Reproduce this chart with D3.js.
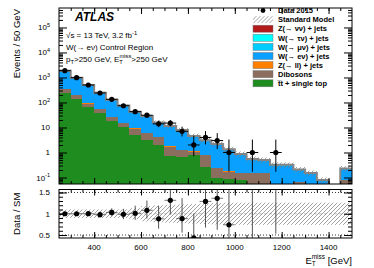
<!DOCTYPE html>
<html>
<head>
<meta charset="utf-8">
<script src="https://cdn.jsdelivr.net/npm/d3@7/dist/d3.min.js"></script>
<style>
  body { margin: 0; background: #fff; }
  svg text { font-family: "Liberation Sans", Arial, Helvetica, sans-serif; fill: #000; }
</style>
</head>
<body>
<script>
// 50 GeV bins from 250 to 1500 GeV
const binCenters = [275,325,375,425,475,525,575,625,675,725,775,825,875,925,975,1025,1075,1125,1175,1225,1275,1325,1375,1425,1475];

// data 2015 and its (poisson) errors
const dataCounts  = [1870,980,500,240,134,74,43,31,14,15,7,2,4,3,1,0,1,0,1,0,0,0,0,0,0];
const dataErrLow  = [43,31,22,15.5,11.6,8.6,6.6,5.6,3.7,3.8,2.6,1.29,1.91,1.63,0.83,0,0.83,0,0.83,0,0,0,0,0,0];
const dataErrHigh = [44,32,23,16.5,12.6,9.6,7.6,6.6,4.8,4.9,3.8,2.64,3.16,2.92,2.3,0,2.3,0,2.3,0,0,0,0,0,0];

// backgrounds (stack order bottom -> top)
const ttbar   = [245,134,68,37,19,10.5,5,3.2,2.0,0.7,0.68,0.8,0.27,0.1,0.09,0.08,0,0,0,0,0,0,0,0,0];
const diboson = [89,58,23,16,7.5,4.7,4.1,2.6,2.2,1.0,0.58,0.27,0.53,0.13,0.08,0.07,0.15,0.15,0,0,0.068,0,0,0,0.08];
const zll     = [6,8,2,1,0.5,0.3,0.2,0.1,0.1,0.05,0.05,0.03,0.02,0.02,0.01,0,0,0,0,0,0,0,0,0,0];
const wenu    = [1409,716,374,175,94.6,54.6,30.45,20.9,10.62,8.93,6.1,3.18,2.08,1.81,1.08,0.65,0.36,0.31,0.295,0.295,0.125,0.135,0.07,0,0.13];
const wmunu   = [37,20,10,5,2.6,1.5,0.85,0.6,0.3,0.22,0.15,0.1,0.06,0.04,0.03,0.02,0.01,0.01,0.01,0.01,0.005,0.005,0.003,0,0.005];
const wtaunu  = [75,39,20,10,5.2,3,1.7,1.15,0.6,0.45,0.3,0.2,0.12,0.09,0.05,0.04,0.03,0.03,0.015,0.015,0.012,0.01,0.006,0,0.015];
const znunu   = [9,5,2.5,1.2,0.6,0.4,0.2,0.15,0.08,0.05,0.04,0.02,0.02,0.01,0.01,0.01,0,0,0,0,0,0,0,0,0];

// relative uncertainty of the SM prediction
const smUnc = [0.1,0.1,0.1,0.1,0.1,0.1,0.13,0.18,0.2,0.21,0.22,0.23,0.24,0.25,0.26,0.26,0.26,0.26,0.26,0.26,0.26,0.26,0.26,0.26,0.26];

const keys = ["ttbar","diboson","zll","wenu","wmunu","wtaunu","znunu"];
const colors = {
  znunu: "#b31b1b", wtaunu: "#00ffff", wmunu: "#00ccff", wenu: "#0aa0ff",
  zll: "#ff8000", diboson: "#8c6e5f", ttbar: "#1e8c1e"
};
const legendEntries = [
  {label: "Data 2015", type: "data"},
  {label: "Standard Model", type: "sm"},
  {label: "Z(\u2192 \u03bd\u03bd) + jets", type: "znunu"},
  {label: "W(\u2192 \u03c4\u03bd) + jets", type: "wtaunu"},
  {label: "W(\u2192 \u03bc\u03bd) + jets", type: "wmunu"},
  {label: "W(\u2192 e\u03bd) + jets", type: "wenu"},
  {label: "Z(\u2192 ll) + jets", type: "zll"},
  {label: "Dibosons", type: "diboson"},
  {label: "t\u0305t + single top", type: "ttbar"}
];
const xLabels = [400,600,800,1000,1200,1400];
const logLabels = [-1,0,1,2,3,4,5];
const ratioLabels = [0.5,1,1.5];

const width = 374, height = 268;
const left = 59, right = 352;
const mainTop = 8, mainBottom = 184;
const ratioTop = 189.5, ratioBottom = 238;

const svg = d3.select("body").append("svg")
  .attr("width", width).attr("height", height);

const xScale = d3.scaleLinear().domain([250, 1500]).range([left, right]);
const yScale = d3.scaleLog().domain([0.055, 6e5]).range([mainBottom, mainTop]);
const rScale = d3.scaleLinear().domain([0.43, 1.57]).range([ratioBottom, ratioTop]);
const yFloor = yScale.domain()[0];

const defs = svg.append("defs");
defs.append("pattern").attr("id", "hatch")
  .attr("patternUnits", "userSpaceOnUse").attr("width", 4).attr("height", 4)
  .append("path").attr("d", "M-1,1 l2,-2 M0,4 l4,-4 M3,5 l2,-2")
  .attr("stroke", "#7a7a7a").attr("stroke-width", 0.7);
defs.append("clipPath").attr("id", "clipMain").append("rect")
  .attr("x", left).attr("y", mainTop).attr("width", right - left).attr("height", mainBottom - mainTop);
defs.append("clipPath").attr("id", "clipRatio").append("rect")
  .attr("x", left).attr("y", ratioTop).attr("width", right - left).attr("height", ratioBottom - ratioTop);

// stacked backgrounds
const rows = binCenters.map((c, i) => ({
  c: c, ttbar: ttbar[i], diboson: diboson[i], zll: zll[i], wenu: wenu[i],
  wmunu: wmunu[i], wtaunu: wtaunu[i], znunu: znunu[i]
}));
const stacked = d3.stack().keys(keys)(rows);
const total = stacked[stacked.length - 1].map(d => d[1]);

const main = svg.append("g").attr("clip-path", "url(#clipMain)");
stacked.forEach(layer => {
  main.append("g").selectAll("rect")
    .data(layer.filter(d => d[1] > d[0] && d[1] > yFloor))
    .enter().append("rect")
    .attr("x", d => xScale(d.data.c - 25))
    .attr("width", xScale(300) - xScale(250))
    .attr("y", d => yScale(d[1]))
    .attr("height", d => (d[0] > yFloor ? yScale(d[0]) : mainBottom + 2) - yScale(d[1]))
    .attr("fill", colors[layer.key])
    .attr("shape-rendering", "crispEdges");
});

// SM uncertainty band + outline
main.append("g").selectAll("rect")
  .data(binCenters.map((c, i) => ({c: c, t: total[i], u: smUnc[i]})).filter(d => d.t > 0))
  .enter().append("rect")
  .attr("x", d => xScale(d.c - 25))
  .attr("width", xScale(300) - xScale(250))
  .attr("y", d => yScale(d.t * (1 + d.u)))
  .attr("height", d => yScale(Math.max(d.t * (1 - d.u), yFloor * 0.5)) - yScale(d.t * (1 + d.u)))
  .attr("fill", "url(#hatch)");

const stepPts = binCenters.map((c, i) => [c - 25, Math.max(total[i], yFloor * 0.3)]);
stepPts.push([1500, Math.max(total[total.length - 1], yFloor * 0.3)]);
main.append("path")
  .attr("d", d3.line().x(d => xScale(d[0])).y(d => yScale(d[1])).curve(d3.curveStepAfter)(stepPts))
  .attr("fill", "none").attr("stroke", "#858585").attr("stroke-width", 2);

// data points
const pts = binCenters.map((c, i) => ({
  c: c, n: dataCounts[i], lo: dataErrLow[i], hi: dataErrHigh[i], t: total[i]
})).filter(d => d.n > 0);

const dataG = main.append("g");
dataG.selectAll("line.v").data(pts).enter().append("line")
  .attr("x1", d => xScale(d.c)).attr("x2", d => xScale(d.c))
  .attr("y1", d => yScale(d.n + d.hi))
  .attr("y2", d => yScale(Math.max(d.n - d.lo, yFloor * 0.5)))
  .attr("stroke", "#000").attr("stroke-width", 1);
dataG.selectAll("line.h").data(pts).enter().append("line")
  .attr("x1", d => xScale(d.c - 25)).attr("x2", d => xScale(d.c + 25))
  .attr("y1", d => yScale(d.n)).attr("y2", d => yScale(d.n))
  .attr("stroke", "#000").attr("stroke-width", 1);
dataG.selectAll("circle").data(pts).enter().append("circle")
  .attr("cx", d => xScale(d.c)).attr("cy", d => yScale(d.n))
  .attr("r", 2.6).attr("fill", "#000");

// ratio panel
const ratio = svg.append("g").attr("clip-path", "url(#clipRatio)");
ratio.append("g").selectAll("rect")
  .data(binCenters.map((c, i) => ({c: c, u: smUnc[i]})))
  .enter().append("rect")
  .attr("x", d => xScale(d.c - 25))
  .attr("width", xScale(300) - xScale(250))
  .attr("y", d => rScale(1 + d.u))
  .attr("height", d => rScale(1 - d.u) - rScale(1 + d.u))
  .attr("fill", "url(#hatch)");

[0.5, 1.5].forEach(v => {
  ratio.append("line").attr("x1", left).attr("x2", right)
    .attr("y1", rScale(v)).attr("y2", rScale(v))
    .attr("stroke", "#000").attr("stroke-width", 0.8).attr("stroke-dasharray", "1,2");
});
ratio.append("line").attr("x1", left).attr("x2", right)
  .attr("y1", rScale(1)).attr("y2", rScale(1))
  .attr("stroke", "#888").attr("stroke-width", 0.5).attr("stroke-dasharray", "3,2");

ratio.selectAll("line.rv").data(pts).enter().append("line")
  .attr("x1", d => xScale(d.c)).attr("x2", d => xScale(d.c))
  .attr("y1", d => rScale((d.n + d.hi) / d.t))
  .attr("y2", d => rScale((d.n - d.lo) / d.t))
  .attr("stroke", "#555").attr("stroke-width", 1);
ratio.selectAll("line.rh").data(pts).enter().append("line")
  .attr("x1", d => xScale(d.c - 25)).attr("x2", d => xScale(d.c + 25))
  .attr("y1", d => rScale(d.n / d.t)).attr("y2", d => rScale(d.n / d.t))
  .attr("stroke", "#555").attr("stroke-width", 0.8);
ratio.selectAll("circle").data(pts).enter().append("circle")
  .attr("cx", d => xScale(d.c)).attr("cy", d => rScale(d.n / d.t))
  .attr("r", 2.6).attr("fill", "#000");

// frames
[[mainTop, mainBottom], [ratioTop, ratioBottom]].forEach(p => {
  svg.append("rect").attr("x", left).attr("y", p[0])
    .attr("width", right - left).attr("height", p[1] - p[0])
    .attr("fill", "none").attr("stroke", "#000").attr("stroke-width", 1);
});

// ticks (inward, all four sides)
const xMinor = d3.range(300, 1500, 50);
function noDomain(g) { g.select(".domain").remove(); g.selectAll("line").attr("stroke", "#000"); }
function xTicks(yTop, yBot) {
  svg.append("g").attr("transform", `translate(0,${yBot})`)
    .call(d3.axisBottom(xScale).tickValues(xMinor).tickSize(-3).tickFormat("")).call(noDomain);
  svg.append("g").attr("transform", `translate(0,${yBot})`)
    .call(d3.axisBottom(xScale).tickValues(xLabels).tickSize(-6).tickFormat("")).call(noDomain);
  svg.append("g").attr("transform", `translate(0,${yTop})`)
    .call(d3.axisTop(xScale).tickValues(xMinor).tickSize(-3).tickFormat("")).call(noDomain);
  svg.append("g").attr("transform", `translate(0,${yTop})`)
    .call(d3.axisTop(xScale).tickValues(xLabels).tickSize(-6).tickFormat("")).call(noDomain);
}
xTicks(mainTop, mainBottom);
xTicks(ratioTop, ratioBottom);

const logMinor = [];
for (let e = -2; e <= 5; e++) for (let k = 2; k <= 9; k++) {
  const v = k * Math.pow(10, e);
  if (v > yFloor && v < 6e5) logMinor.push(v);
}
const logMajor = logLabels.map(e => Math.pow(10, e));
function yTicks(scale, minor, major, lenMinor, lenMajor) {
  svg.append("g").attr("transform", `translate(${left},0)`)
    .call(d3.axisLeft(scale).tickValues(minor).tickSize(-lenMinor).tickFormat("")).call(noDomain);
  svg.append("g").attr("transform", `translate(${left},0)`)
    .call(d3.axisLeft(scale).tickValues(major).tickSize(-lenMajor).tickFormat("")).call(noDomain);
  svg.append("g").attr("transform", `translate(${right},0)`)
    .call(d3.axisRight(scale).tickValues(minor).tickSize(-lenMinor).tickFormat("")).call(noDomain);
  svg.append("g").attr("transform", `translate(${right},0)`)
    .call(d3.axisRight(scale).tickValues(major).tickSize(-lenMajor).tickFormat("")).call(noDomain);
}
yTicks(yScale, logMinor, logMajor, 4, 8);
yTicks(rScale, d3.range(0.5, 1.55, 0.1), ratioLabels, 4, 8);

// tick labels
svg.append("g").selectAll("text").data(xLabels).enter().append("text")
  .attr("x", d => xScale(d)).attr("y", 250)
  .attr("text-anchor", "middle").attr("font-size", 8).text(d => d);

const logText = svg.append("g").selectAll("text").data(logLabels).enter().append("text")
  .attr("x", 50).attr("y", d => yScale(Math.pow(10, d)) + 3)
  .attr("text-anchor", "end").attr("font-size", 8);
logText.each(function(e) {
  const t = d3.select(this);
  if (e === 0) t.text("1");
  else if (e === 1) t.text("10");
  else {
    t.append("tspan").text("10");
    t.append("tspan").attr("dy", -3.5).attr("font-size", 5.5).text(e);
  }
});

svg.append("g").selectAll("text").data(ratioLabels).enter().append("text")
  .attr("x", 50).attr("y", d => rScale(d) + 3)
  .attr("text-anchor", "end").attr("font-size", 8).text(d => d);

// axis titles
svg.append("text").attr("transform", `translate(20,${mainTop + 1}) rotate(-90)`)
  .attr("text-anchor", "end").attr("font-size", 9.5).text("Events / 50 GeV");
svg.append("text").attr("transform", `translate(20,${(ratioTop + ratioBottom) / 2}) rotate(-90)`)
  .attr("text-anchor", "middle").attr("font-size", 9.5).text("Data / SM");

const xt = svg.append("text").attr("x", right).attr("y", 264)
  .attr("text-anchor", "end").attr("font-size", 9.5);
xt.append("tspan").text("E");
xt.append("tspan").attr("dy", 2.2).attr("font-size", 6.5).text("T");
xt.append("tspan").attr("dx", -4).attr("dy", -7).attr("font-size", 6.5).text("miss");
xt.append("tspan").attr("dy", 4.8).text(" [GeV]");

// ATLAS label and region text
svg.append("text").attr("x", 75).attr("y", 21)
  .attr("font-size", 12).attr("font-weight", "bold").attr("font-style", "italic").text("ATLAS");

const l1 = svg.append("text").attr("x", 66).attr("y", 38).attr("font-size", 8);
l1.append("tspan").text("\u221as = 13 TeV, 3.2 fb");
l1.append("tspan").attr("dy", -3.2).attr("font-size", 5.8).text("-1");
svg.append("text").attr("x", 66).attr("y", 50).attr("font-size", 8)
  .text("W(\u2192 e\u03bd) Control Region");
const l3 = svg.append("text").attr("x", 66).attr("y", 61.5).attr("font-size", 8);
l3.append("tspan").text("p");
l3.append("tspan").attr("dy", 2).attr("font-size", 5.8).text("T");
l3.append("tspan").attr("dy", -2).text(">250 GeV, E");
l3.append("tspan").attr("dy", 2).attr("font-size", 5.8).text("T");
l3.append("tspan").attr("dx", -3.4).attr("dy", -5.8).attr("font-size", 5.8).text("miss");
l3.append("tspan").attr("dy", 3.8).text(">250 GeV");

// legend
const legX = 253, legY = 10.5, legStep = 9.1;
const leg = svg.append("g").selectAll("g").data(legendEntries).enter().append("g")
  .attr("transform", (d, i) => `translate(${legX},${legY + i * legStep})`);
leg.each(function(d) {
  const g = d3.select(this);
  if (d.type === "data") {
    g.append("circle").attr("cx", 10).attr("cy", 0).attr("r", 2.4).attr("fill", "#000");
  } else if (d.type === "sm") {
    g.append("rect").attr("x", 0).attr("y", -3.5).attr("width", 20).attr("height", 7)
      .attr("fill", "url(#hatch)");
  } else {
    g.append("rect").attr("x", 0).attr("y", -3.5).attr("width", 20).attr("height", 7)
      .attr("fill", colors[d.type]).attr("stroke", "#777").attr("stroke-width", 0.5);
  }
  g.append("text").attr("x", 25).attr("y", 2.7)
    .attr("font-size", 7.5).attr("font-weight", "bold").text(d.label);
});
</script>
</body>
</html>
